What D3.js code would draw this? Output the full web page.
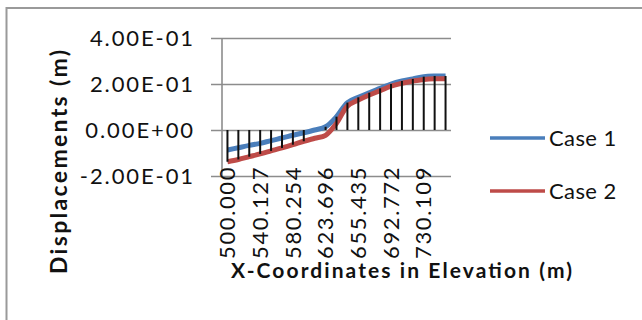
<!DOCTYPE html>
<html>
<head>
<meta charset="utf-8">
<script src="https://cdn.jsdelivr.net/npm/d3@7"></script>
<style>
  body { margin: 0; background: #fff; }
  text { font-family: Lato, "Liberation Sans", sans-serif; fill: #111; }
  .axisTitle { font-weight: bold; }
</style>
</head>
<body>
<div id="chart"></div>
<script>

// data
var seriesNames = ["Case 1", "Case 2"];
var seriesColors = ["#4a7ebb", "#be4b48"];

var case1 = [-0.087, -0.077, -0.067, -0.058, -0.046, -0.035, -0.023, -0.012, 0.000, 0.014,
             0.058, 0.119, 0.142, 0.162, 0.181, 0.200, 0.213, 0.222, 0.232, 0.235, 0.235];
var case2 = [-0.138, -0.128, -0.116, -0.104, -0.091, -0.078, -0.064, -0.049, -0.036, -0.023,
             0.029, 0.104, 0.130, 0.152, 0.171, 0.191, 0.203, 0.213, 0.220, 0.223, 0.223];

// only every third category carries a label
var tickLabels = ["500.000", "540.127", "580.254", "623.696", "655.435", "692.772", "730.109"];
var tickEvery = 3;

var yTicks = [-0.2, 0, 0.2, 0.4];

var svgWidth = 642;
var svgHeight = 320;

var margin = { top: 38, right: 191, bottom: 144, left: 222 };
var width = svgWidth - margin.left - margin.right;
var height = svgHeight - margin.top - margin.bottom;

var svg = d3.select("#chart")
    .append("svg")
    .attr("width", svgWidth)
    .attr("height", svgHeight);

// outer frame (runs off the right and bottom of the picture)
svg.append("rect")
    .attr("x", 6.5)
    .attr("y", 8)
    .attr("width", 700)
    .attr("height", 400)
    .attr("fill", "none")
    .attr("stroke", "#9a9a9a")
    .attr("stroke-width", 2);

var chartGroup = svg.append("g")
    .attr("transform", `translate(${margin.left}, ${margin.top})`);

var xScale = d3.scaleBand()
    .domain(d3.range(case1.length))
    .range([0, width]);

var yScale = d3.scaleLinear()
    .domain([-0.2, 0.4])
    .range([height, 0]);

var cx = i => xScale(i) + xScale.bandwidth() / 2;

// gridlines + y axis
var leftAxis = d3.axisLeft(yScale)
    .tickValues(yTicks)
    .tickSize(-width)
    .tickPadding(27)
    .tickFormat(d => d.toExponential(2).replace(/e([+-])(\d)$/, "E$10$2").toUpperCase());

var yAxisG = chartGroup.append("g")
    .call(leftAxis);

yAxisG.select(".domain").remove();
yAxisG.selectAll(".tick line")
    .attr("x1", -11)
    .attr("stroke", "#8c8c8c")
    .attr("stroke-width", 1.6);
yAxisG.selectAll(".tick text")
    .attr("font-size", 22)
    .attr("letter-spacing", 1.9)
    .attr("fill", "#111");

chartGroup.append("line")
    .attr("x1", 0).attr("x2", 0)
    .attr("y1", 0).attr("y2", height)
    .attr("stroke", "#8c8c8c")
    .attr("stroke-width", 1.6);

// series lines
var series = [case1, case2];
var line = d3.line()
    .x((d, i) => cx(i))
    .y(d => yScale(d))
    .curve(d3.curveCatmullRom);

chartGroup.selectAll(".series")
    .data(series)
    .enter()
    .append("path")
    .attr("class", "series")
    .attr("d", d => line(d))
    .attr("fill", "none")
    .attr("stroke", (d, i) => seriesColors[i])
    .attr("stroke-width", 5)
    .attr("stroke-linejoin", "round");

// drop lines from zero to the outer point
chartGroup.selectAll(".drop")
    .data(case1)
    .enter()
    .append("line")
    .attr("class", "drop")
    .attr("x1", (d, i) => cx(i))
    .attr("x2", (d, i) => cx(i))
    .attr("y1", yScale(0))
    .attr("y2", (d, i) => {
        var v = d >= 0 ? Math.max(d, case2[i]) : Math.min(d, case2[i]);
        return yScale(v);
    })
    .attr("stroke", "#111")
    .attr("stroke-width", 2);

// category labels
chartGroup.selectAll(".xlabel")
    .data(tickLabels)
    .enter()
    .append("text")
    .attr("class", "xlabel")
    .attr("transform", (d, i) => `translate(${cx(i * tickEvery)}, ${height - 10}) rotate(-90)`)
    .attr("text-anchor", "end")
    .attr("dy", "0.35em")
    .attr("font-size", 22)
    .attr("letter-spacing", 1.6)
    .text(d => d);

// axis titles
svg.append("text")
    .attr("class", "axisTitle")
    .attr("x", 231)
    .attr("y", 278)
    .attr("font-size", 21)
    .attr("textLength", 341)
    .attr("lengthAdjust", "spacing")
    .text("X-Coordinates in Elevation (m)");

svg.append("text")
    .attr("class", "axisTitle")
    .attr("transform", "translate(67, 274) rotate(-90)")
    .attr("font-size", 23)
    .attr("textLength", 224)
    .attr("lengthAdjust", "spacing")
    .text("Displacements (m)");

// legend
var legend = svg.selectAll(".legend")
    .data(seriesNames)
    .enter()
    .append("g")
    .attr("class", "legend")
    .attr("transform", (d, i) => `translate(490, ${138 + i * 53})`);

legend.append("line")
    .attr("x1", 0).attr("x2", 55)
    .attr("stroke", (d, i) => seriesColors[i])
    .attr("stroke-width", 3.5);

legend.append("text")
    .attr("x", 59)
    .attr("dy", "0.35em")
    .attr("font-size", 22)
    .attr("letter-spacing", 0.4)
    .text(d => d);

</script>
</body>
</html>
